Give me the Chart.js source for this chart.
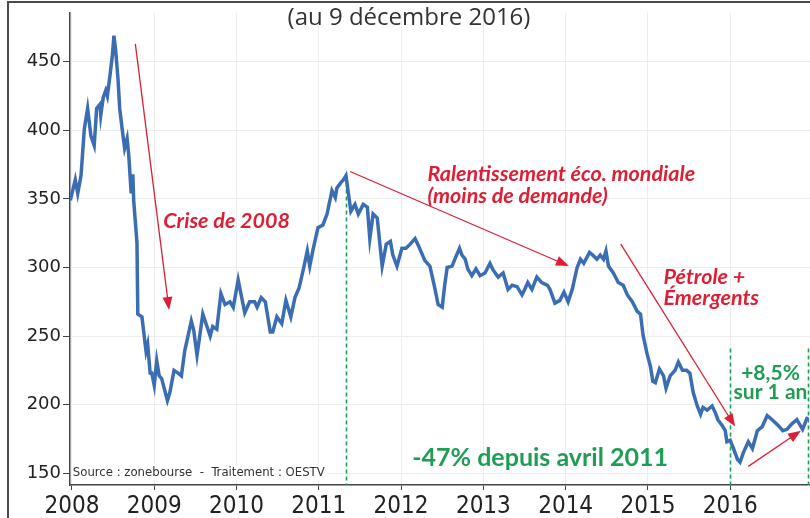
<!DOCTYPE html>
<html>
<head>
<meta charset="utf-8">
<script src="https://cdn.jsdelivr.net/npm/chart.js@4.4.1/dist/chart.umd.min.js"></script>
<style>
  html, body { margin: 0; padding: 0; background: #fff; }
  #wrap { width: 810px; height: 518px; position: relative; }
</style>
</head>
<body>
<div id="wrap"><canvas id="chart"></canvas></div>
<script>
// weekly-ish readings (decimal year, index level)
const dates = [
  2007.98, 2008.04, 2008.07, 2008.11, 2008.15, 2008.19, 2008.23, 2008.27, 2008.30, 2008.34,
  2008.35, 2008.38, 2008.41, 2008.43, 2008.46, 2008.49, 2008.51, 2008.53, 2008.56, 2008.58,
  2008.61, 2008.64, 2008.67, 2008.69, 2008.72, 2008.74, 2008.75, 2008.79, 2008.80, 2008.85,
  2008.90, 2008.92, 2008.95, 2008.97, 2009.00, 2009.03, 2009.06, 2009.09, 2009.16, 2009.19,
  2009.24, 2009.29, 2009.33, 2009.37, 2009.45, 2009.48, 2009.52, 2009.59, 2009.68, 2009.71,
  2009.76, 2009.81, 2009.86, 2009.92, 2009.96, 2010.02, 2010.10, 2010.16, 2010.22, 2010.25,
  2010.30, 2010.35, 2010.41, 2010.44, 2010.49, 2010.55, 2010.60, 2010.66, 2010.71, 2010.76,
  2010.81, 2010.86, 2010.89, 2010.93, 2010.99, 2011.05, 2011.10, 2011.16, 2011.20, 2011.22,
  2011.27, 2011.30, 2011.33, 2011.36, 2011.39, 2011.44, 2011.48, 2011.54, 2011.59, 2011.62,
  2011.66, 2011.71, 2011.77, 2011.82, 2011.87, 2011.90, 2011.95, 2012.01, 2012.06, 2012.11,
  2012.17, 2012.21, 2012.29, 2012.35, 2012.41, 2012.45, 2012.50, 2012.53, 2012.56, 2012.62,
  2012.66, 2012.71, 2012.74, 2012.78, 2012.81, 2012.86, 2012.91, 2012.96, 2013.02, 2013.08,
  2013.12, 2013.18, 2013.24, 2013.30, 2013.35, 2013.41, 2013.47, 2013.51, 2013.54, 2013.59,
  2013.65, 2013.71, 2013.78, 2013.81, 2013.87, 2013.93, 2013.98, 2014.03, 2014.08, 2014.14,
  2014.18, 2014.22, 2014.29, 2014.33, 2014.38, 2014.42, 2014.46, 2014.49, 2014.52, 2014.58,
  2014.64, 2014.70, 2014.75, 2014.81, 2014.87, 2014.91, 2014.94, 2014.99, 2015.03, 2015.06,
  2015.09, 2015.14, 2015.19, 2015.22, 2015.27, 2015.33, 2015.37, 2015.42, 2015.47, 2015.51,
  2015.55, 2015.60, 2015.64, 2015.67, 2015.72, 2015.78, 2015.82, 2015.85, 2015.90, 2015.94,
  2015.96, 2016.00, 2016.04, 2016.09, 2016.12, 2016.16, 2016.22, 2016.27, 2016.33, 2016.39,
  2016.45, 2016.51, 2016.58, 2016.64, 2016.69, 2016.75, 2016.81, 2016.88, 2016.94
];
const prices = [
  349, 364, 354, 367, 401, 416, 396, 389, 416, 419,
  411, 424, 429, 425, 439, 454, 469, 459, 437, 416,
  401, 387, 394, 382, 354, 368, 349, 318, 266, 264,
  239, 244, 223, 223, 214, 232, 221, 219, 203, 209,
  225, 223, 221, 239, 261, 254, 236, 266, 250, 257,
  255, 281, 273, 275, 271, 291, 267, 275, 275, 271,
  278, 275, 253, 253, 264, 259, 276, 264, 278, 285,
  298, 312, 301, 313, 329, 331, 339, 356, 351, 358,
  362, 364, 367, 354, 341, 346, 339, 346, 344, 321,
  339, 336, 301, 317, 319, 309, 301, 314, 314, 317,
  321, 316, 305, 301, 285, 273, 271, 287, 300, 301,
  307, 314, 309, 306, 299, 294, 299, 294, 296, 303,
  298, 293, 296, 284, 287, 286, 280, 285, 289, 284,
  293, 289, 287, 284, 274, 276, 282, 275, 284, 300,
  306, 303, 311, 309, 306, 309, 306, 312, 301, 296,
  289, 287, 280, 275, 268, 266, 251, 237, 228, 217,
  216, 226, 221, 212, 221, 225, 231, 225, 225, 223,
  209, 199, 193, 198, 196, 199, 194, 189, 185, 181,
  173, 174, 168, 160, 158, 165, 173, 168, 181, 184,
  192, 189, 185, 181, 182, 186, 189, 182, 191
];
const xTicks = [2008, 2009, 2010, 2011, 2012, 2013, 2014, 2015, 2016];
const yTicks = [150, 200, 250, 300, 350, 400, 450];

const titleText = '(au 9 décembre 2016)';
const sourceText = 'Source : zonebourse  -  Traitement : OESTV';

const RED = '#dc1f35';
const GREEN = '#1f9d55';

// annotations in data coordinates
const redArrows = [
  { from: [2008.77, 463], to: [2009.18, 269] },
  { from: [2011.38, 370], to: [2014.04, 301] },
  { from: [2014.67, 317], to: [2016.06, 184] },
  { from: [2016.22, 155], to: [2016.86, 181] }
];
const greenDashes = [
  { x: 2011.33, top: 367 },
  { x: 2016.00, top: 241 },
  { x: 2016.94, top: 241 }
];
const redLabels = [
  { text: 'Crise de 2008', x: 2009.11, y: 334 },
  { text: 'Ralentissement éco. mondiale', x: 2012.32, y: 368 },
  { text: '(moins de demande)', x: 2012.32, y: 352 },
  { text: 'Pétrole +', x: 2015.19, y: 293 },
  { text: 'Émergents', x: 2015.19, y: 278 }
];
const greenLabels = [
  { text: '-47% depuis avril 2011', x: 2013.69, y: 161, size: 25 },
  { text: '+8,5%', x: 2016.49, y: 223, size: 21 },
  { text: 'sur 1 an', x: 2016.49, y: 209, size: 21 }
];

function drawArrow(ctx, x1, y1, x2, y2) {
  const ang = Math.atan2(y2 - y1, x2 - x1);
  const len = 13, half = 5;
  ctx.strokeStyle = RED;
  ctx.fillStyle = RED;
  ctx.lineWidth = 1.3;
  ctx.beginPath();
  ctx.moveTo(x1, y1);
  ctx.lineTo(x2 - Math.cos(ang) * len * 0.8, y2 - Math.sin(ang) * len * 0.8);
  ctx.stroke();
  ctx.beginPath();
  ctx.moveTo(x2, y2);
  ctx.lineTo(x2 - Math.cos(ang) * len + Math.sin(ang) * half, y2 - Math.sin(ang) * len - Math.cos(ang) * half);
  ctx.lineTo(x2 - Math.cos(ang) * len - Math.sin(ang) * half, y2 - Math.sin(ang) * len + Math.cos(ang) * half);
  ctx.closePath();
  ctx.fill();
}

const decorations = {
  id: 'decorations',
  beforeDatasetsDraw(chart) {
    const { ctx, scales: { x, y }, chartArea } = chart;
    ctx.save();
    ctx.strokeStyle = GREEN;
    ctx.lineWidth = 1.6;
    ctx.setLineDash([4, 3]);
    greenDashes.forEach(d => {
      const px = Math.round(x.getPixelForValue(d.x)) + 0.5;
      ctx.beginPath();
      ctx.moveTo(px, y.getPixelForValue(d.top));
      ctx.lineTo(px, chartArea.bottom);
      ctx.stroke();
    });
    ctx.restore();
  },
  afterDatasetsDraw(chart) {
    const { ctx, scales: { x, y }, width, height } = chart;
    ctx.save();

    // outer frame (top and left edges)
    ctx.strokeStyle = '#4a4a4a';
    ctx.lineWidth = 2;
    ctx.beginPath();
    ctx.moveTo(8, height);
    ctx.lineTo(8, 2);
    ctx.lineTo(width, 2);
    ctx.stroke();

    // title
    ctx.fillStyle = '#333';
    ctx.font = '24px "Open Sans", sans-serif';
    ctx.textAlign = 'center';
    ctx.textBaseline = 'middle';
    ctx.fillText(titleText, width / 2 + 4, 18);

    redArrows.forEach(a => {
      drawArrow(ctx,
        x.getPixelForValue(a.from[0]), y.getPixelForValue(a.from[1]),
        x.getPixelForValue(a.to[0]), y.getPixelForValue(a.to[1]));
    });

    ctx.fillStyle = RED;
    ctx.font = 'italic bold 21.5px Lato, sans-serif';
    ctx.textAlign = 'left';
    redLabels.forEach(l => {
      ctx.fillText(l.text, x.getPixelForValue(l.x), y.getPixelForValue(l.y));
    });

    ctx.fillStyle = GREEN;
    ctx.textAlign = 'center';
    greenLabels.forEach(l => {
      ctx.font = 'bold ' + l.size + 'px Lato, sans-serif';
      ctx.fillText(l.text, x.getPixelForValue(l.x), y.getPixelForValue(l.y));
    });

    // source note
    ctx.font = '13px "Liberation Sans Narrow", "DejaVu Sans Condensed", sans-serif';
    ctx.textAlign = 'left';
    const sx = x.getPixelForValue(2008.01), sy = y.getPixelForValue(150.7);
    const sw = ctx.measureText(sourceText).width;
    ctx.fillStyle = '#fff';
    ctx.fillRect(sx - 1, sy - 8, sw + 3, 16);
    ctx.fillStyle = '#333';
    ctx.fillText(sourceText, sx, sy);

    ctx.restore();
  }
};

new Chart(document.getElementById('chart'), {
  type: 'line',
  data: {
    datasets: [{
      data: dates.map((d, i) => ({ x: d, y: prices[i] })),
      borderColor: '#3b6db3',
      borderWidth: 3.5,
      pointRadius: 0,
      tension: 0,
      fill: false
    }]
  },
  options: {
    responsive: true,
    maintainAspectRatio: false,
    animation: false,
    layout: { padding: { top: 3, right: 0, left: 0, bottom: 0 } },
    plugins: {
      legend: { display: false },
      tooltip: { enabled: false }
    },
    scales: {
      x: {
        type: 'linear',
        min: 2007.976,
        max: 2016.97,
        afterBuildTicks: axis => { axis.ticks = xTicks.map(v => ({ value: v })); },
        afterFit: axis => { axis.height = 33; },
        ticks: {
          callback: v => String(v),
          color: '#222',
          padding: 2,
          maxRotation: 0,
          font: { family: '"Liberation Sans Narrow", "DejaVu Sans Condensed", sans-serif', size: 24 }
        },
        grid: { color: '#ededed', tickColor: '#444', tickLength: 5, lineWidth: 1 },
        border: { display: true, color: '#444', width: 1.5 }
      },
      y: {
        min: 141.4,
        max: 485.7,
        afterBuildTicks: axis => { axis.ticks = yTicks.map(v => ({ value: v })); },
        afterFit: axis => { axis.width = 70; },
        ticks: {
          color: '#222',
          padding: 2,
          font: { family: '"DejaVu Sans", sans-serif', size: 18 }
        },
        grid: { color: '#ededed', tickColor: '#444', tickLength: 7, lineWidth: 1 },
        border: { display: true, color: '#444', width: 1.5 }
      }
    }
  },
  plugins: [decorations]
});
</script>
</body>
</html>
